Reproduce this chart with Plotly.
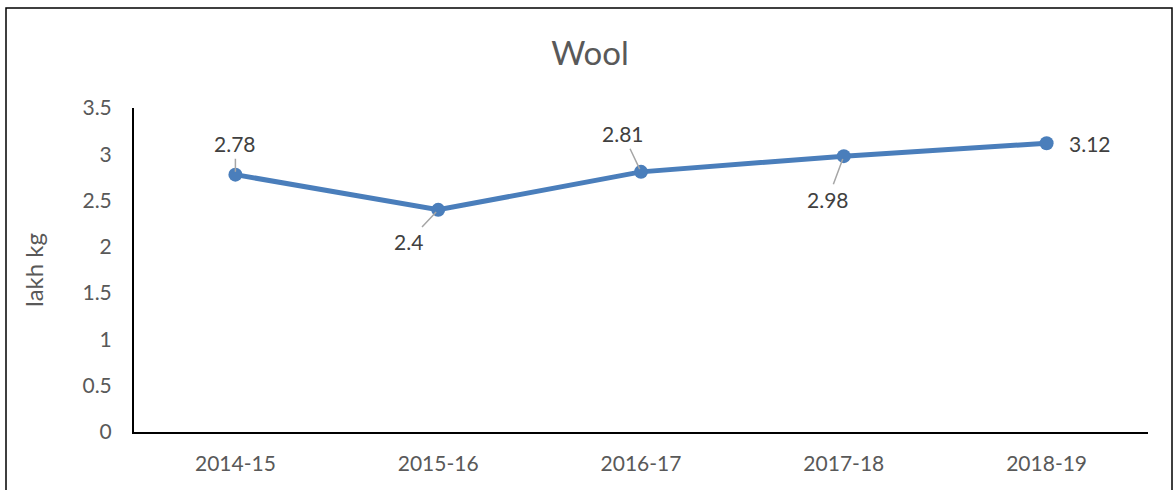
import plotly.graph_objects as go

categories = ["2014-15", "2015-16", "2016-17", "2017-18", "2018-19"]
values = [2.78, 2.4, 2.81, 2.98, 3.12]
y_ticks = [0, 0.5, 1, 1.5, 2, 2.5, 3, 3.5]
y_tick_labels = ["0", "0.5", "1", "1.5", "2", "2.5", "3", "3.5"]

FONT = "Lato"
TXT = "#595959"
LINE = "#4a7ebb"

fig = go.Figure()
fig.add_trace(go.Scatter(
    x=list(range(len(categories))), y=values, mode="lines+markers",
    line=dict(color=LINE, width=5),
    marker=dict(color=LINE, size=14),
    hoverinfo="skip", showlegend=False,
))

# data label placements (pixel offsets of label from point)
label_offsets = [(0, -31), (-30, 32), (-18, -38), (-16, 43), (43, 0)]
for i, (v, (ax, ay)) in enumerate(zip(values, label_offsets)):
    if ay == 0:
        fig.add_annotation(x=i, y=v, xref="x", yref="y", text=str(v), showarrow=False,
                           xshift=ax, font=dict(family=FONT, size=21, color="#404040"))
    else:
        fig.add_annotation(x=i, y=v, xref="x", yref="y", text=str(v), showarrow=True,
                           ax=ax, ay=ay, arrowhead=0, arrowwidth=1.5, arrowcolor="#a6a6a6",
                           standoff=3, startstandoff=1,
                           font=dict(family=FONT, size=21, color="#404040"))

fig.update_layout(
    width=1176, height=490, autosize=False,
    margin=dict(l=134, r=28, t=108, b=58, autoexpand=False),
    paper_bgcolor="white", plot_bgcolor="white",
    title=dict(text="Wool", x=590 / 1176, xanchor="center", xref="container",
               y=1 - 53 / 490, yref="container", yanchor="middle",
               font=dict(family=FONT, size=33, color=TXT)),
    font=dict(family=FONT, color=TXT),
    shapes=[dict(type="rect", xref="paper", yref="paper",
                 x0=(6 - 134) / (1176 - 162), x1=(1172 - 134) / (1176 - 162),
                 y0=(432 - 520) / (432 - 108), y1=(432 - 8) / (432 - 108),
                 line=dict(color="black", width=1.5), layer="below")],
)
fig.update_xaxes(
    tickmode="array", tickvals=list(range(len(categories))), ticktext=categories,
    range=[-0.5, len(categories) - 0.5], showgrid=False, zeroline=False,
    showline=True, linecolor="black", linewidth=2, ticks="", automargin=False,
    ticklabelstandoff=12, tickfont=dict(family=FONT, size=21, color=TXT),
)
fig.update_yaxes(
    tickmode="array", tickvals=y_ticks, ticktext=y_tick_labels,
    range=[0, 3.5], showgrid=False, zeroline=False, automargin=False,
    showline=True, linecolor="black", linewidth=2, ticks="",
    ticklabelstandoff=16, tickfont=dict(family=FONT, size=21, color=TXT),
    title=dict(text="lakh kg", font=dict(family=FONT, size=24, color=TXT), standoff=32),
)
fig.write_html("out.html", config={"displayModeBar": False},
               post_script="document.body.style.margin='0';document.body.style.overflow='hidden';")
